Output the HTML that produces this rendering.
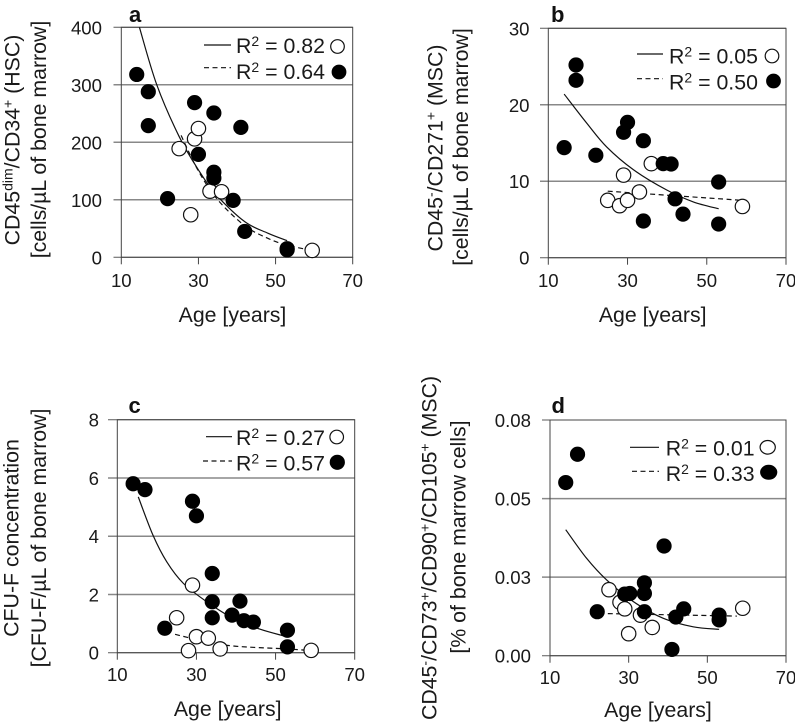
<!DOCTYPE html>
<html>
<head>
<meta charset="utf-8">
<title>Cell concentration versus age</title>
<style>
html,body{margin:0;padding:0;background:#fff;}
svg{display:block;font-family:"Liberation Sans",Arial,sans-serif;fill:#1a1a1a;}
.tick{font-size:18.6px;}
.title{font-size:21.3px;}
.legend{font-size:21.3px;}
.sup{font-size:14px;}
.letter{font-size:22px;font-weight:bold;fill:#111;}
</style>
</head>
<body>
<svg id="chart" width="795" height="724" viewBox="0 0 795 724" xmlns="http://www.w3.org/2000/svg">
  <rect width="795" height="724" fill="#fff"/>
  <g id="panel-a"></g>
  <g id="panel-b"></g>
  <g id="panel-c"></g>
  <g id="panel-d"></g>

  <g>
    <text class="letter" x="129" y="22">a</text>
    <text class="letter" x="551" y="22">b</text>
    <text class="letter" x="128.5" y="413">c</text>
    <text class="letter" x="551.5" y="413">d</text>
  </g>

  <g class="title" text-anchor="middle">
    <text transform="translate(19.3 140) rotate(-90)">CD45<tspan class="sup" dy="-7">dim</tspan><tspan dy="7">/CD34</tspan><tspan class="sup" dy="-7">+</tspan><tspan dy="7"> (HSC)</tspan></text>
    <text transform="translate(46 139.5) rotate(-90)">[cells/µL of bone marrow]</text>
    <text transform="translate(442.7 148) rotate(-90)">CD45<tspan class="sup" dy="-7">-</tspan><tspan dy="7">/CD271</tspan><tspan class="sup" dy="-7">+</tspan><tspan dy="7"> (MSC)</tspan></text>
    <text transform="translate(468 147) rotate(-90)">[cells/µL of bone marrow]</text>
    <text transform="translate(18.3 538) rotate(-90)">CFU-F concentration</text>
    <text transform="translate(46 538) rotate(-90)">[CFU-F/µL of bone marrow]</text>
    <text transform="translate(436.7 548) rotate(-90)">CD45<tspan class="sup" dy="-7">-</tspan><tspan dy="7">/CD73</tspan><tspan class="sup" dy="-7">+</tspan><tspan dy="7">/CD90</tspan><tspan class="sup" dy="-7">+</tspan><tspan dy="7">/CD105</tspan><tspan class="sup" dy="-7">+</tspan><tspan dy="7"> (MSC)</tspan></text>
    <text transform="translate(465.7 537) rotate(-90)">[% of bone marrow cells]</text>
  </g>

  <g class="title" text-anchor="middle">
    <text x="232.5" y="322">Age [years]</text>
    <text x="652.7" y="322">Age [years]</text>
    <text x="227.7" y="716">Age [years]</text>
    <text x="658" y="717">Age [years]</text>
  </g>

  <g class="legend">
    <line x1="204" x2="231" y1="45" y2="45" stroke="#111" stroke-width="1.2"/>
    <line x1="204" x2="231" y1="67.7" y2="67.7" stroke="#111" stroke-width="1.2" stroke-dasharray="5 3.5"/>
    <text x="236" y="53">R<tspan class="sup" dy="-7">2</tspan><tspan dy="7"> = 0.82</tspan></text>
    <text x="236" y="79">R<tspan class="sup" dy="-7">2</tspan><tspan dy="7"> = 0.64</tspan></text>
    <circle cx="337.5" cy="46.5" r="6.8" fill="#fff" stroke="#111" stroke-width="1.2"/>
    <circle cx="339" cy="72" r="7.4" fill="#000"/>
  </g>
  <g class="legend">
    <line x1="637" x2="663" y1="54" y2="54" stroke="#111" stroke-width="1.2"/>
    <line x1="637" x2="663" y1="78.7" y2="78.7" stroke="#111" stroke-width="1.2" stroke-dasharray="5 3.5"/>
    <text x="669" y="63.5">R<tspan class="sup" dy="-7">2</tspan><tspan dy="7"> = 0.05</tspan></text>
    <text x="669" y="89.5">R<tspan class="sup" dy="-7">2</tspan><tspan dy="7"> = 0.50</tspan></text>
    <circle cx="772" cy="56" r="6.8" fill="#fff" stroke="#111" stroke-width="1.2"/>
    <circle cx="773.5" cy="81" r="7.4" fill="#000"/>
  </g>
  <g class="legend">
    <line x1="206" x2="232" y1="436.7" y2="436.7" stroke="#111" stroke-width="1.2"/>
    <line x1="203" x2="232" y1="461" y2="461" stroke="#111" stroke-width="1.2" stroke-dasharray="5 3.5"/>
    <text x="236" y="445">R<tspan class="sup" dy="-7">2</tspan><tspan dy="7"> = 0.27</tspan></text>
    <text x="236" y="470.5">R<tspan class="sup" dy="-7">2</tspan><tspan dy="7"> = 0.57</tspan></text>
    <circle cx="336.7" cy="437" r="6.8" fill="#fff" stroke="#111" stroke-width="1.2"/>
    <circle cx="337.3" cy="462.3" r="7.6" fill="#000"/>
  </g>
  <g class="legend">
    <line x1="630" x2="659" y1="447.3" y2="447.3" stroke="#111" stroke-width="1.2"/>
    <line x1="632" x2="659" y1="471.3" y2="471.3" stroke="#111" stroke-width="1.2" stroke-dasharray="5 3.5"/>
    <text x="665.7" y="455.5">R<tspan class="sup" dy="-7">2</tspan><tspan dy="7"> = 0.01</tspan></text>
    <text x="665.7" y="481">R<tspan class="sup" dy="-7">2</tspan><tspan dy="7"> = 0.33</tspan></text>
    <ellipse cx="767.7" cy="447.3" rx="7.6" ry="6.8" fill="#fff" stroke="#111" stroke-width="1.2"/>
    <ellipse cx="768.7" cy="472.3" rx="8.6" ry="7.5" fill="#000"/>
  </g>
</svg>

<script>
// Shared x axis
const xTickValues = [10, 30, 50, 70];
const xTickLabels = ['10', '30', '50', '70'];

// Panel a
const aFilledAges = [14, 17, 17, 22, 29, 30, 34, 34, 34, 39, 41, 42, 53, 53];
const aFilledValues = [318, 288, 229, 102, 269, 179, 251, 148, 138, 99, 226, 45, 15, 13];
const aOpenAges = [25, 28, 29, 30, 33, 36, 59.5];
const aOpenValues = [189, 74, 206, 224, 115, 114, 12];
const aSolidAges = [14.7, 19.2, 25, 30, 34.7, 42, 48, 53];
const aSolidValues = [400, 300, 210, 152, 108, 62, 42, 29];
const aDashedAges = [25.5, 30, 35, 42, 48, 53, 59.5];
const aDashedValues = [212, 150, 100, 55, 33, 21, 12];
const aYTickValues = [0, 100, 200, 300, 400];
const aYTickLabels = ['0', '100', '200', '300', '400'];

// Panel b
const bFilledAges = [14, 17, 17, 22, 29, 30, 34, 34, 39, 41, 42, 44, 53, 53];
const bFilledValues = [14.4, 25.2, 23.2, 13.4, 16.4, 17.7, 15.3, 4.8, 12.3, 12.25, 7.7, 5.7, 9.9, 4.4];
const bOpenAges = [25, 28, 29, 30, 33, 36, 59];
const bOpenValues = [7.5, 6.8, 10.8, 7.5, 8.6, 12.3, 6.7];
const bSolidAges = [14, 19.7, 24.7, 31.5, 39.9, 46.6, 53];
const bSolidValues = [21.4, 17.6, 14.5, 11.5, 8.85, 7.3, 6.4];
const bDashedAges = [25, 42, 59];
const bDashedValues = [8.7, 8.1, 7.5];
const bYTickValues = [0, 10, 20, 30];
const bYTickLabels = ['0', '10', '20', '30'];

// Panel c
const cFilledAges = [14, 17, 22, 29, 30, 34, 34, 34, 39, 41, 42, 44.4, 53, 53];
const cFilledValues = [5.8, 5.6, 0.84, 5.2, 4.7, 2.72, 1.75, 1.2, 1.29, 1.77, 1.1, 1.05, 0.77, 0.2];
const cOpenAges = [25, 28, 29, 30, 33, 36, 59];
const cOpenValues = [1.2, 0.07, 2.32, 0.55, 0.5, 0.13, 0.08];
const cSolidAges = [15.3, 19, 22.5, 26.7, 32.6, 39.3, 46, 52];
const cSolidValues = [5.35, 4.04, 3.12, 2.38, 1.75, 1.18, 0.81, 0.58];
const cDashedAges = [24.6, 30.9, 39.3, 52.8, 59];
const cDashedValues = [0.63, 0.43, 0.23, 0.13, 0.07];
const cYTickValues = [0, 2, 4, 6, 8];
const cYTickLabels = ['0', '2', '4', '6', '8'];

// Panel d
const dFilledAges = [14, 17, 22, 29, 30.3, 34, 34, 34, 39, 41, 42, 44, 53, 53];
const dFilledValues = [0.0551, 0.0641, 0.014, 0.0196, 0.0198, 0.0232, 0.0198, 0.014, 0.0349, 0.002, 0.0123, 0.0149, 0.0129, 0.0114];
const dOpenAges = [25, 27.8, 29, 30, 33, 36, 59];
const dOpenValues = [0.021, 0.017, 0.0149, 0.007, 0.0129, 0.009, 0.0151];
const dSolidAges = [14, 19.3, 24.4, 31.2, 38.8, 46.4, 53];
const dSolidValues = [0.0401, 0.031, 0.0241, 0.0172, 0.0119, 0.0092, 0.0084];
const dDashedAges = [24.7, 57.5];
const dDashedValues = [0.0134, 0.0126];
const dYTickValues = [0, 0.025, 0.05, 0.075];
const dYTickLabels = ['0.00', '0.03', '0.05', '0.08'];

const SVG_NS = 'http://www.w3.org/2000/svg';

function make(parent, tag, attrs) {
  const el = document.createElementNS(SVG_NS, tag);
  Object.keys(attrs).forEach(function (k) { el.setAttribute(k, attrs[k]); });
  parent.appendChild(el);
  return el;
}

function smoothPath(pts) {
  let d = 'M' + pts[0][0].toFixed(2) + ' ' + pts[0][1].toFixed(2);
  for (let i = 0; i < pts.length - 1; i++) {
    const p0 = pts[Math.max(i - 1, 0)];
    const p1 = pts[i];
    const p2 = pts[i + 1];
    const p3 = pts[Math.min(i + 2, pts.length - 1)];
    const c1x = p1[0] + (p2[0] - p0[0]) / 6;
    const c1y = p1[1] + (p2[1] - p0[1]) / 6;
    const c2x = p2[0] - (p3[0] - p1[0]) / 6;
    const c2y = p2[1] - (p3[1] - p1[1]) / 6;
    d += 'C' + c1x.toFixed(2) + ' ' + c1y.toFixed(2) + ' ' + c2x.toFixed(2) + ' ' + c2y.toFixed(2) + ' ' + p2[0].toFixed(2) + ' ' + p2[1].toFixed(2);
  }
  return d;
}

function drawPanel(p) {
  const g = document.getElementById(p.id);
  const xScale = function (v) { return p.left + (v - 10) / 60 * (p.right - p.left); };
  const yScale = function (v) { return p.bottom - v / p.yMax * (p.bottom - p.top); };

  // Gridlines and y ticks
  p.yTicks.forEach(function (v, i) {
    const y = yScale(v);
    const isEdge = (i === 0 || i === p.yTicks.length - 1);
    const grid = make(g, 'line', { x1: p.tickLeft, x2: p.right, y1: y, y2: y, stroke: isEdge ? '#5a5a5a' : '#888888', 'stroke-width': isEdge ? 1 : 1.5 });
    
    
    const label = make(g, 'text', { x: p.yLabelRight, y: y + 7, 'text-anchor': 'end', class: 'tick' });
    
    
    label.textContent = p.yLabels[i];
  });

  // Plot frame
  const frame = make(g, 'rect', { x: p.left, y: p.top, width: p.right - p.left, height: p.bottom - p.top, fill: 'none', stroke: '#444', 'stroke-width': 1 });
  
  

  // X ticks
  xTickValues.forEach(function (v, i) {
    const x = xScale(v);
    const tick = make(g, 'line', { x1: x, x2: x, y1: p.bottom, y2: p.bottom + 7, stroke: '#444', 'stroke-width': 1 });
    
    
    const label = make(g, 'text', { x: x, y: p.xLabelY, 'text-anchor': 'middle', class: 'tick' });
    
    
    label.textContent = xTickLabels[i];
  });

  // Trend lines
  const solid = make(g, 'path', { d: smoothPath(p.solidAges.map(function (a, i) { return [xScale(a), yScale(p.solidValues[i])]; })), fill: 'none', stroke: '#111', 'stroke-width': 1.2 });
  
  
  const dashed = make(g, 'path', { d: smoothPath(p.dashedAges.map(function (a, i) { return [xScale(a), yScale(p.dashedValues[i])]; })), fill: 'none', stroke: '#111', 'stroke-width': 1.2, 'stroke-dasharray': '5 3.5' });
  
  

  // Open markers
  p.openAges.forEach(function (a, i) {
    const c = make(g, 'circle', { cx: xScale(a), cy: yScale(p.openValues[i]), r: 7.2, fill: '#fff', stroke: '#111', 'stroke-width': 1.2 });
    
    
  });

  // Filled markers
  p.filledAges.forEach(function (a, i) {
    const c = make(g, 'circle', { cx: xScale(a), cy: yScale(p.filledValues[i]), r: 7.6, fill: '#000' });
    
    
  });
}

drawPanel({
  id: 'panel-a', left: 121.3, right: 352.7, top: 27.3, bottom: 257.3, tickLeft: 113.5, yLabelRight: 102, xLabelY: 287, yMax: 400,
  yTicks: aYTickValues, yLabels: aYTickLabels,
  filledAges: aFilledAges, filledValues: aFilledValues, openAges: aOpenAges, openValues: aOpenValues,
  solidAges: aSolidAges, solidValues: aSolidValues, dashedAges: aDashedAges, dashedValues: aDashedValues
});
drawPanel({
  id: 'panel-b', left: 548.3, right: 786, top: 28.3, bottom: 257.7, tickLeft: 540, yLabelRight: 529.5, xLabelY: 287, yMax: 30,
  yTicks: bYTickValues, yLabels: bYTickLabels,
  filledAges: bFilledAges, filledValues: bFilledValues, openAges: bOpenAges, openValues: bOpenValues,
  solidAges: bSolidAges, solidValues: bSolidValues, dashedAges: bDashedAges, dashedValues: bDashedValues
});
drawPanel({
  id: 'panel-c', left: 117.3, right: 354.7, top: 419.7, bottom: 652.7, tickLeft: 108, yLabelRight: 99, xLabelY: 681, yMax: 8,
  yTicks: cYTickValues, yLabels: cYTickLabels,
  filledAges: cFilledAges, filledValues: cFilledValues, openAges: cOpenAges, openValues: cOpenValues,
  solidAges: cSolidAges, solidValues: cSolidValues, dashedAges: cDashedAges, dashedValues: cDashedValues
});
drawPanel({
  id: 'panel-d', left: 550, right: 786, top: 420, bottom: 655.7, tickLeft: 542, yLabelRight: 531, xLabelY: 684, yMax: 0.075,
  yTicks: dYTickValues, yLabels: dYTickLabels,
  filledAges: dFilledAges, filledValues: dFilledValues, openAges: dOpenAges, openValues: dOpenValues,
  solidAges: dSolidAges, solidValues: dSolidValues, dashedAges: dDashedAges, dashedValues: dDashedValues
});
</script>
</body>
</html>
